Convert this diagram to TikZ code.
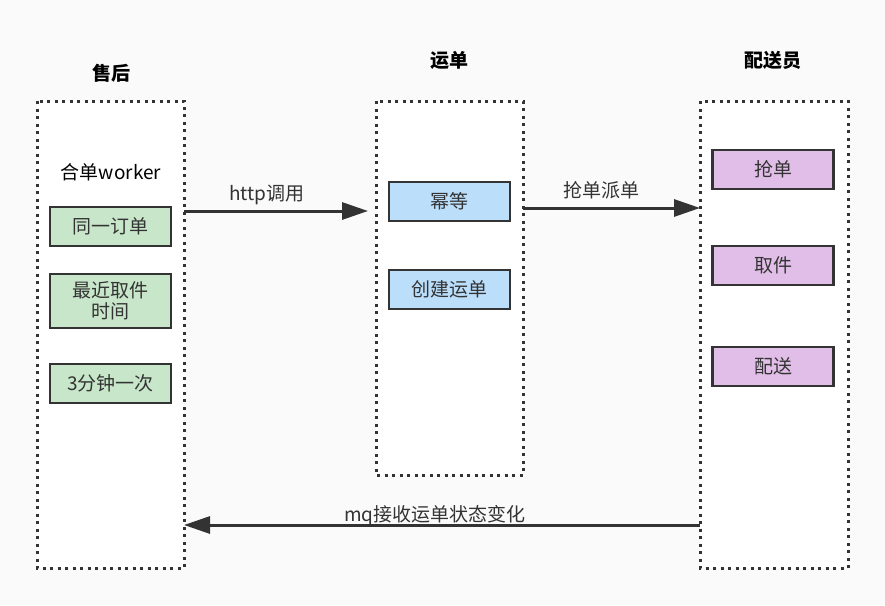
\documentclass[tikz,border=0pt]{standalone}
\usepackage{fontspec}
\setmainfont{Noto Sans CJK SC}
\usetikzlibrary{arrows.meta}
\definecolor{bg}{HTML}{FAFAFA}
\definecolor{ink}{HTML}{333333}
\definecolor{gfill}{HTML}{C8E6C9}
\definecolor{bfill}{HTML}{BBDEFB}
\definecolor{pfill}{HTML}{E1BEE7}
\tikzset{
  container/.style={draw=ink, fill=white, line width=3pt, dash pattern=on 3pt off 4.5pt},
  itembox/.style={draw=ink, line width=2.8pt, minimum width=121pt, inner sep=0pt, align=center, font=\fontsize{19}{22}\selectfont, text=ink},
  title/.style={font=\fontsize{19}{22}\selectfont\bfseries, text=black},
  lbl/.style={font=\fontsize{19}{22}\selectfont, text=ink},
  conn/.style={draw=ink, line width=3pt, -{Triangle[length=26pt,width=17pt]}},
}
\begin{document}
\begin{tikzpicture}[x=1pt,y=-1pt]
\fill[bg] (0,0) rectangle (885,605);
\useasboundingbox (0,0) rectangle (885,605);
% containers
\draw[container] (37,101) rectangle (184,568);
\draw[container] (376,101) rectangle (523,475);
\draw[container] (700,101) rectangle (848,568);
\coordinate (Lr) at (184,211);
\coordinate (Mr) at (523,208);
\coordinate (Rl) at (700,208);
\coordinate (Mlin) at (368,211);
\coordinate (Rb) at (700,525);
\coordinate (Lb) at (184,525);
% titles
\node[title] (t1) at (111,73) {售后};
\node[title] (t2) at (449,60) {运单};
\node[title] (t3) at (773,60) {配送员};
\node[lbl, text=black] (worker) at (111,172) {合单worker};
% left items
\node[itembox, fill=gfill, minimum height=39pt] (a1) at (110.5,226.5) {同一订单};
\node[itembox, fill=gfill, minimum height=54pt] (a2) at (110.5,301) {最近取件\\[-1pt]时间};
\node[itembox, fill=gfill, minimum height=39pt] (a3) at (110.5,383.5) {3分钟一次};
% middle items
\node[itembox, fill=bfill, minimum height=39pt] (b1) at (449.5,201.5) {幂等};
\node[itembox, fill=bfill, minimum height=39pt] (b2) at (449.5,289.5) {创建运单};
% right items
\node[itembox, fill=pfill, minimum height=39pt] (c1) at (773,169.5) {抢单};
\node[itembox, fill=pfill, minimum height=39pt] (c2) at (773,265.5) {取件};
\node[itembox, fill=pfill, minimum height=39pt] (c3) at (773,366.5) {配送};
% connectors
\draw[conn] (Lr) -- (Mlin);
\node[lbl] (l1) at (267,195) {http调用};
\draw[conn] (Mr) -- (Rl);
\node[lbl] (l2) at (601,190) {抢单派单};
\draw[conn] (Rb) -- (Lb);
\node[lbl] (l3) at (435,516) {mq接收运单状态变化};
\end{tikzpicture}
\end{document}
